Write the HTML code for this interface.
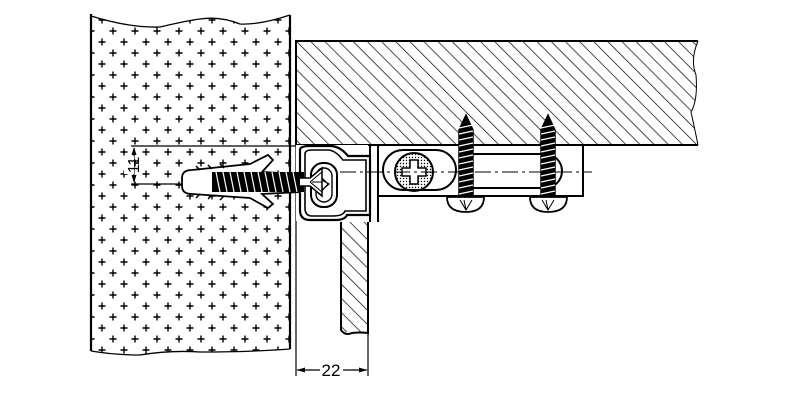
<!DOCTYPE html>
<html><head><style>html,body{margin:0;padding:0;background:#fff}svg{display:block}</style></head>
<body>
<svg width="800" height="416" viewBox="0 0 800 416" xmlns="http://www.w3.org/2000/svg" font-family="Liberation Sans, sans-serif">
<defs>
<pattern id="plus" width="22" height="22" patternUnits="userSpaceOnUse" x="96" y="14">
<path d="M2.5 6h7M6 2.5v7M13.5 17h7M17 13.5v7" stroke="#000" stroke-width="1.4"/>
</pattern>
<pattern id="hatch" width="10" height="12" patternUnits="userSpaceOnUse" patternTransform="rotate(-45)">
<line x1="0" y1="0" x2="0" y2="12" stroke="#000" stroke-width="1.4"/>
</pattern>
<pattern id="dots" width="3" height="3" patternUnits="userSpaceOnUse"><circle cx="1.5" cy="1.5" r="0.7" fill="#000"/></pattern>
</defs>
<path d="M91 16 Q130 28 160 27 Q190 20 200 19 Q220 16 240 24 Q260 25 290 15 L290 349 Q250 352 200 352 Q170 350 140 355 Q115 355 91 351 Z" fill="url(#plus)" stroke="none"/>
<path d="M91 14 V351 M290 15 V349" stroke="#000" stroke-width="2.2" fill="none"/>
<path d="M91 16 Q130 28 160 27 Q190 20 200 19 Q220 16 240 24 Q260 25 290 15 M91 351 Q115 355 140 355 Q170 350 200 352 Q250 352 290 349" stroke="#000" stroke-width="1.3" fill="none"/>
<path d="M296 41 H698 Q690 60 696 75 Q698 100 691 112 Q695 130 698 145 H296 Z" fill="url(#hatch)" stroke="none"/>
<path d="M296 145 V41 H698 M296 145 H698" stroke="#000" stroke-width="2" fill="none"/>
<path d="M698 41 Q690 60 696 75 Q698 100 691 112 Q695 130 698 145" stroke="#000" stroke-width="1" fill="none"/>
<rect x="341" y="222" width="27" height="110" fill="url(#hatch)"/>
<path d="M341 222 V330 Q345 336 352 333 Q360 332 368 333 V222" stroke="#000" stroke-width="2" fill="none"/>
<line x1="296" y1="145" x2="296" y2="376" stroke="#000" stroke-width="1.2"/>
<line x1="368" y1="333" x2="368" y2="376" stroke="#000" stroke-width="1.2"/>
<line x1="297" y1="370" x2="320" y2="370" stroke="#000" stroke-width="1.2"/>
<line x1="343" y1="370" x2="367" y2="370" stroke="#000" stroke-width="1.2"/>
<path d="M297 370 l8 -2.5 v5 z M367 370 l-8 -2.5 v5 z" fill="#000"/>
<text x="331" y="376" font-size="17" text-anchor="middle">22</text>
<line x1="131" y1="146" x2="300" y2="146" stroke="#000" stroke-width="1.2"/>
<line x1="131" y1="184" x2="200" y2="184" stroke="#000" stroke-width="1.2"/>
<line x1="134" y1="148" x2="134" y2="182" stroke="#000" stroke-width="1.2"/>
<path d="M134 147 l-2.5 8 h5 z M134 183 l-2.5 -8 h5 z" fill="#000"/>
<rect x="124" y="156" width="10" height="18" fill="#fff"/>
<text x="0" y="0" font-size="16" transform="translate(139 165) rotate(-90)" text-anchor="middle">11</text>
<rect x="296" y="145" width="72" height="76" fill="#fff"/>
<path d="M300 150 Q300 146 310 146 H330 Q340 146 348 156 H370 V215 H347 Q345 220 335 220 H310 Q300 220 300 210 Z" fill="#fff" stroke="#000" stroke-width="2.2"/>
<path d="M305 154 Q305 150 312 150 H328 Q335 150 343 160 H366 V211 H345 Q343 216 333 216 H312 Q305 216 305 208 Z" fill="none" stroke="#000" stroke-width="1.6"/>
<rect x="311" y="163" width="26" height="44" rx="12" fill="#fff" stroke="#000" stroke-width="2"/>
<rect x="316" y="168" width="16" height="34" rx="8" fill="none" stroke="#000" stroke-width="1.4"/>
<path d="M320 176 L328 184 L320 193 M322 180 L329 184 L322 190" stroke="#000" stroke-width="1.2" fill="none"/>
<line x1="370" y1="145" x2="370" y2="222" stroke="#000" stroke-width="2"/>
<line x1="378" y1="145" x2="378" y2="222" stroke="#000" stroke-width="2"/>
<rect x="378" y="145" width="205" height="51" fill="#fff" stroke="#000" stroke-width="2"/>
<rect x="383" y="150" width="73" height="40" rx="20" fill="#fff" stroke="#000" stroke-width="2"/>
<path d="M472 154 H545 A17 17 0 0 1 545 188 H472" fill="none" stroke="#000" stroke-width="2"/>
<circle cx="414" cy="172" r="19" fill="url(#dots)" stroke="#000" stroke-width="2"/>
<path d="M410 160 h8 v8 h8 v8 h-8 v8 h-8 v-8 h-8 v-8 h8 z" fill="#fff" stroke="#000" stroke-width="1.5"/>
<line x1="340" y1="172" x2="592" y2="172" stroke="#000" stroke-width="1" stroke-dasharray="16 4 3 4"/>
<g stroke="#000" stroke-width="1.5">
<path d="M459 210 V130 L466 115 L473 130 V210 Z" fill="#000"/>
<path d="M541 210 V130 L548 115 L555 130 V210 Z" fill="#000"/>
</g>
<g stroke="#fff" stroke-width="1.2">
<path d="M459 128l14 -3M459 134l14 -3M459 140l14 -3M459 146l14 -3M459 152l14 -3M459 158l14 -3M459 164l14 -3M459 170l14 -3M459 176l14 -3M459 182l14 -3M459 188l14 -3M459 194l14 -3"/>
<path d="M541 128l14 -3M541 134l14 -3M541 140l14 -3M541 146l14 -3M541 152l14 -3M541 158l14 -3M541 164l14 -3M541 170l14 -3M541 176l14 -3M541 182l14 -3M541 188l14 -3M541 194l14 -3"/>
</g>
<path d="M447 197 H484 Q484 212 466 212 Q447 212 447 197 Z" fill="#fff" stroke="#000" stroke-width="1.8"/>
<path d="M530 197 H567 Q567 212 548 212 Q530 212 530 197 Z" fill="#fff" stroke="#000" stroke-width="1.8"/>
<path d="M460 200 L466 210 L472 200 M464 200 L466 210 M542 200 L548 210 L554 200 M546 200 L548 210" stroke="#000" stroke-width="1" fill="none"/>
<path d="M182 178 Q182 170 192 170 L250 164 L268 155 L273 160 L262 172 L300 174 V192 L262 194 L273 204 L268 208 L250 198 L192 194 Q182 194 182 186 Z" fill="#fff" stroke="#000" stroke-width="1.8"/>
<path d="M200 170 l-4 -4 M212 169 l-4 -4 M224 168 l-4 -4 M200 194 l-4 4 M212 195 l-4 4 M224 196 l-4 4" stroke="#000" stroke-width="1.5"/>
<rect x="212" y="172" width="92" height="20" fill="#000"/>
<path d="M216 172 l4 20 M223 172 l4 20 M230 172 l4 20 M237 172 l4 20 M244 172 l4 20 M251 172 l4 20 M258 172 l4 20 M265 172 l4 20 M272 172 l4 20 M279 172 l4 20 M286 172 l4 20 M293 172 l4 20" stroke="#fff" stroke-width="1.2"/>
<path d="M300 178 H310 L322 168 V196 L310 186 H300" fill="#fff" stroke="#000" stroke-width="1.5"/>
<path d="M310 182 L322 172 M310 182 L322 192 M312 182 H322" stroke="#000" stroke-width="1"/>
</svg>
</body></html>
